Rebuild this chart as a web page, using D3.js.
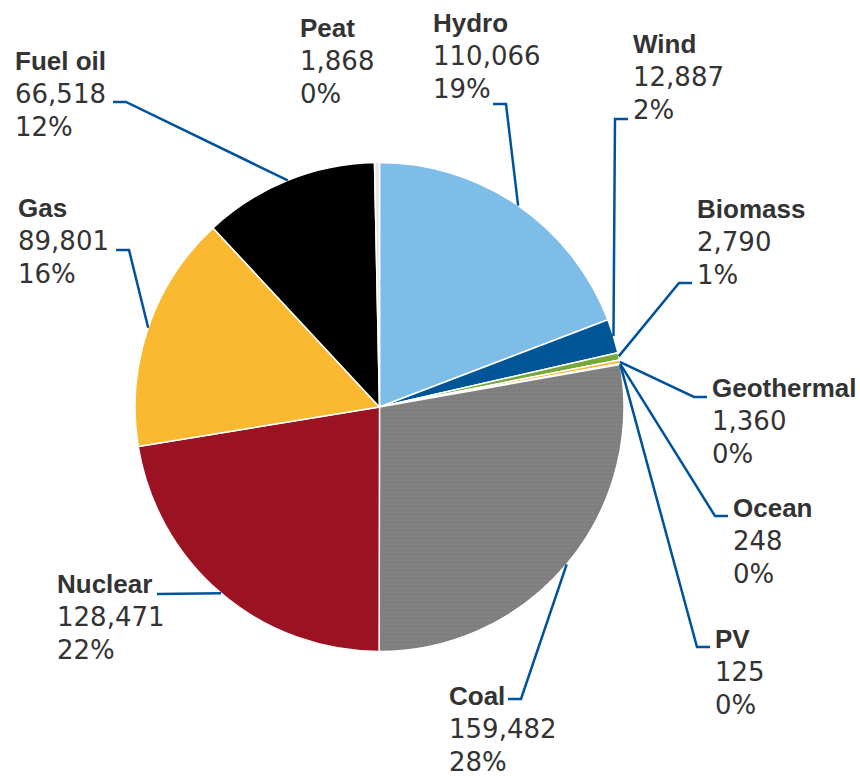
<!DOCTYPE html>
<html>
<head>
<meta charset="utf-8">
<script src="https://cdn.jsdelivr.net/npm/d3@7"></script>
<style>
  html, body { margin: 0; padding: 0; background: #ffffff; }
  svg { display: block; }
  .name { font-family: "Liberation Sans", Arial, sans-serif; font-weight: bold; font-size: 26px; fill: #333333; }
  .val { font-family: "DejaVu Sans", sans-serif; font-size: 26px; fill: #333333; }
</style>
</head>
<body>
<svg id="chart" width="860" height="776"></svg>
<script>
// ---- data ----
const categories = ["Hydro", "Wind", "Biomass", "Geothermal", "Ocean", "PV", "Coal", "Nuclear", "Gas", "Fuel oil", "Peat"];
const values = [110066, 12887, 2790, 1360, 248, 125, 159482, 128471, 89801, 66518, 1868];
const percentLabels = ["19%", "2%", "1%", "0%", "0%", "0%", "28%", "22%", "16%", "12%", "0%"];
const colors = ["#7dbde8", "#005596", "#77a83a", "#fbb731", "#d99694", "#f6dada", "url(#coalDots)", "#9b1223", "#fbb931", "#000000", "#e6e6e6"];

// ---- layout (label anchor positions: text left x, first baseline y, side of leader) ----
const labelLayout = {
  "Hydro":      { x: 433, y: 32,  leader: "right", ly: 104 },
  "Wind":       { x: 633, y: 53,  leader: "left",  ly: 119 },
  "Biomass":    { x: 697, y: 218, leader: "left",  ly: 283 },
  "Geothermal": { x: 712, y: 397, leader: "left",  ly: 397 },
  "Ocean":      { x: 733, y: 517, leader: "left",  ly: 516 },
  "PV":         { x: 715, y: 648, leader: "left",  ly: 647 },
  "Coal":       { x: 449, y: 705, leader: "right", ly: 699, lx: 508 },
  "Nuclear":    { x: 57,  y: 593, leader: "straight", ly: 594, lx: 157 },
  "Gas":        { x: 18,  y: 217, leader: "right", ly: 250, lx: 116 },
  "Fuel oil":   { x: 15,  y: 70,  leader: "right", ly: 102, lx: 113 },
  "Peat":       { x: 300, y: 37,  leader: "none" }
};

const svg = d3.select("#chart");
const cx = 379.5, cy = 407, r = 244.5;
const lineH = 33;
const elbow = 13;

// coal dot pattern
const defs = svg.append("defs");
const pat = defs.append("pattern").attr("id", "coalDots")
  .attr("patternUnits", "userSpaceOnUse").attr("width", 4).attr("height", 4);
pat.append("rect").attr("width", 4).attr("height", 4).attr("fill", "#7f7f7f");
pat.append("rect").attr("x", 1).attr("y", 1).attr("width", 1).attr("height", 1).attr("fill", "#8f8f8f");

const data = categories.map((c, i) => ({ name: c, value: values[i], pct: percentLabels[i], color: colors[i] }));

const pie = d3.pie().sort(null).value(d => d.value);
const arcs = pie(data);
const arc = d3.arc().innerRadius(0).outerRadius(r);
const edgeArc = d3.arc().innerRadius(r).outerRadius(r);

const g = svg.append("g").attr("transform", `translate(${cx},${cy})`);
g.selectAll("path.slice").data(arcs).join("path")
  .attr("class", "slice")
  .attr("d", arc)
  .attr("fill", d => d.data.color)
  .attr("stroke", "#ffffff")
  .attr("stroke-width", 1.5)
  .attr("stroke-linejoin", "round");

// leader lines
const fmt = d3.format(",");
arcs.forEach(a => {
  const L = labelLayout[a.data.name];
  if (!L) return;
  const [ex, ey] = edgeArc.centroid(a);
  const px = cx + ex, py = cy + ey;
  let pts = null;
  if (L.leader === "left") {
    const sx = L.x - 5;
    pts = [[sx, L.ly], [sx - elbow, L.ly], [px, py]];
  } else if (L.leader === "right") {
    const sx = L.lx !== undefined ? L.lx : L.x + 60;
    pts = [[sx, L.ly], [sx + elbow, L.ly], [px, py]];
  } else if (L.leader === "straight") {
    pts = [[L.lx, L.ly], [px, py]];
  }
  if (pts) {
    svg.append("path")
      .attr("d", d3.line()(pts))
      .attr("fill", "none")
      .attr("stroke", "#00529b")
      .attr("stroke-width", 2.5)
      .attr("stroke-linejoin", "miter");
  }
  const t = svg.append("g");
  t.append("text").attr("class", "name").attr("x", L.x).attr("y", L.y).text(a.data.name);
  t.append("text").attr("class", "val").attr("x", L.x).attr("y", L.y + lineH).text(fmt(a.data.value));
  t.append("text").attr("class", "val").attr("x", L.x).attr("y", L.y + 2 * lineH).text(a.data.pct);
});
</script>
</body>
</html>
